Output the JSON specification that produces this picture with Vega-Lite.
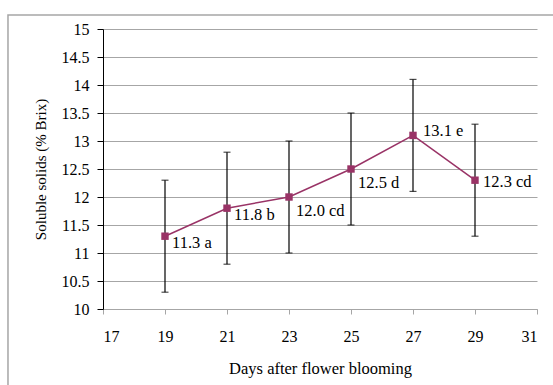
{
  "$schema": "https://vega.github.io/schema/vega-lite/v6.json",
  "width": 434,
  "height": 280,
  "autosize": "none",
  "padding": {"left": 103, "top": 29, "right": 16, "bottom": 76},
  "background": "white",
  "config": {
    "view": {"stroke": null},
    "font": "Liberation Serif",
    "axis": {"labelFont": "Liberation Serif", "titleFont": "Liberation Serif", "titleFontWeight": "normal", "labelColor": "black", "titleColor": "black"}
  },
  "data": {
    "values": [
      {"day": 19, "brix": 11.3, "lo": 10.3, "hi": 12.3, "label": "11.3 a", "grp": "A"},
      {"day": 21, "brix": 11.8, "lo": 10.8, "hi": 12.8, "label": "11.8 b", "grp": "A"},
      {"day": 23, "brix": 12.0, "lo": 11.0, "hi": 13.0, "label": "12.0 cd", "grp": "B"},
      {"day": 25, "brix": 12.5, "lo": 11.5, "hi": 13.5, "label": "12.5 d", "grp": "B"},
      {"day": 27, "brix": 13.1, "lo": 12.1, "hi": 14.1, "label": "13.1 e", "grp": "C"},
      {"day": 29, "brix": 12.3, "lo": 11.3, "hi": 13.3, "label": "12.3 cd", "grp": "D"}
    ]
  },
  "encoding": {
    "x": {
      "field": "day", "type": "quantitative",
      "scale": {"domain": [17, 31], "nice": false, "zero": false},
      "axis": {
        "title": "Days after flower blooming", "titleFontSize": 16.5, "titlePadding": 16,
        "values": [17, 19, 21, 23, 25, 27, 29, 31],
        "grid": false, "domainColor": "#a6a6a6", "tickColor": "#a6a6a6", "tickSize": 5,
        "labelFontSize": 16, "labelPadding": 14
      }
    },
    "y": {
      "field": "brix", "type": "quantitative",
      "scale": {"domain": [10, 15], "nice": false, "zero": false},
      "axis": {
        "title": "Soluble solids (% Brix)", "titleFontSize": 15, "titlePadding": 13,
        "values": [10, 10.5, 11, 11.5, 12, 12.5, 13, 13.5, 14, 14.5, 15],
        "format": ".1~f",
        "grid": true, "gridColor": "#a6a6a6", "gridWidth": 1, "domainColor": "black", "tickColor": "black", "tickSize": 6,
        "labelFontSize": 16, "labelPadding": 8
      }
    }
  },
  "layer": [
    {
      "mark": {"type": "rect", "fill": null, "stroke": "#a6a6a6", "strokeWidth": 1.5, "clip": false},
      "data": {"values": [{"x1": 13.935, "x2": 32.5, "y1": 15.25, "y2": 8.0}]},
      "encoding": {
        "x": {"field": "x1", "type": "quantitative"},
        "x2": {"field": "x2"},
        "y": {"field": "y1", "type": "quantitative"},
        "y2": {"field": "y2"}
      }
    },
    {
      "mark": {"type": "rule", "color": "black", "strokeWidth": 1.2},
      "encoding": {"y": {"field": "lo", "type": "quantitative"}, "y2": {"field": "hi"}}
    },
    {
      "mark": {"type": "tick", "orient": "horizontal", "color": "black", "size": 7, "thickness": 1.2},
      "encoding": {"y": {"field": "lo", "type": "quantitative"}}
    },
    {
      "mark": {"type": "tick", "orient": "horizontal", "color": "black", "size": 7, "thickness": 1.2},
      "encoding": {"y": {"field": "hi", "type": "quantitative"}}
    },
    {
      "mark": {"type": "line", "color": "#993366", "strokeWidth": 1.5},
      "encoding": {}
    },
    {
      "mark": {"type": "point", "shape": "square", "filled": true, "color": "#993366", "size": 55, "opacity": 1},
      "encoding": {}
    },
    {
      "transform": [{"filter": "datum.grp == 'A'"}],
      "mark": {"type": "text", "align": "left", "baseline": "middle", "dx": 7, "dy": 7, "fontSize": 16.5, "font": "Liberation Serif", "color": "black"},
      "encoding": {"text": {"field": "label"}}
    },
    {
      "transform": [{"filter": "datum.grp == 'B'"}],
      "mark": {"type": "text", "align": "left", "baseline": "middle", "dx": 7, "dy": 14, "fontSize": 16.5, "font": "Liberation Serif", "color": "black"},
      "encoding": {"text": {"field": "label"}}
    },
    {
      "transform": [{"filter": "datum.grp == 'C'"}],
      "mark": {"type": "text", "align": "left", "baseline": "middle", "dx": 10, "dy": -4, "fontSize": 16.5, "font": "Liberation Serif", "color": "black"},
      "encoding": {"text": {"field": "label"}}
    },
    {
      "transform": [{"filter": "datum.grp == 'D'"}],
      "mark": {"type": "text", "align": "left", "baseline": "middle", "dx": 8, "dy": 2, "fontSize": 16.5, "font": "Liberation Serif", "color": "black"},
      "encoding": {"text": {"field": "label"}}
    }
  ]
}
